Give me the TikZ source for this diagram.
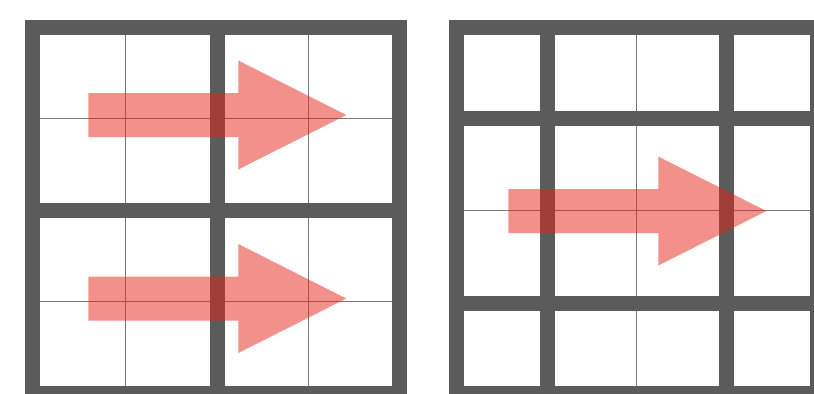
\documentclass[tikz,border=0pt]{standalone}
\usepackage{tikz}
\usetikzlibrary{calc}
\definecolor{gridgray}{RGB}{91,91,91}
\definecolor{thingray}{RGB}{120,120,120}
\definecolor{arrowred}{RGB}{230,36,24}

\begin{document}
\begin{tikzpicture}[x=0.02cm,y=-0.02cm,
    thickline/.style={draw=gridgray, line width=0.3cm},
    thinline/.style={draw=thingray, line width=0.5pt},
    bigarrow/.style={fill=arrowred, fill opacity=0.5}]
        \clip (0,0) rectangle (814,393);
        \fill[white] (0,0) rectangle (814,393);
        \def\shaft{150}
        \def\head{108}
        \def\sw{22}
        \def\hw{54.5}
        %Left grid
        \coordinate (l1) at (32.5,27.5);
        \coordinate (l2) at (399.5,393.5);
        \draw[thinline] (125.5,27.5) -- (125.5,393.5);
        \draw[thinline] (308,27.5) -- (308,393.5);
        \draw[thinline] (32.5,118.5) -- (399.5,118.5);
        \draw[thinline] (32.5,301.5) -- (399.5,301.5);
        \draw[thickline] (l1) rectangle (l2);
        \draw[thickline] (217,27.5) -- (217,393.5);
        \draw[thickline] (32.5,210) -- (399.5,210);
        %Right grid
        \coordinate (r1) at (456,27.5);
        \coordinate (r2) at (817,393.5);
        \draw[thinline] (636.5,27.5) -- (636.5,393.5);
        \draw[thinline] (456,210.5) -- (817,210.5);
        \draw[thickline] (r1) rectangle (r2);
        \draw[thickline] (547,27.5) -- (547,393.5);
        \draw[thickline] (726,27.5) -- (726,393.5);
        \draw[thickline] (456,118) -- (817,118);
        \draw[thickline] (456,303) -- (817,303);
        %Arrows
        \coordinate (a1) at (88.3,115);
        \coordinate (a2) at (88.3,298.5);
        \coordinate (a3) at (508.3,211);
        \fill[bigarrow] ($(a1)+(0,-\sw)$) -- ++(\shaft,0) -- ++(0,\sw-\hw) -- ($(a1)+(\shaft+\head,0)$)
            -- ($(a1)+(\shaft,\hw)$) -- ++(0,\sw-\hw) -- ($(a1)+(0,\sw)$) -- cycle;
        \fill[bigarrow] ($(a2)+(0,-\sw)$) -- ++(\shaft,0) -- ++(0,\sw-\hw) -- ($(a2)+(\shaft+\head,0)$)
            -- ($(a2)+(\shaft,\hw)$) -- ++(0,\sw-\hw) -- ($(a2)+(0,\sw)$) -- cycle;
        \fill[bigarrow] ($(a3)+(0,-\sw)$) -- ++(\shaft,0) -- ++(0,\sw-\hw) -- ($(a3)+(\shaft+\head,0)$)
            -- ($(a3)+(\shaft,\hw)$) -- ++(0,\sw-\hw) -- ($(a3)+(0,\sw)$) -- cycle;
      \end{tikzpicture}
\end{document}
